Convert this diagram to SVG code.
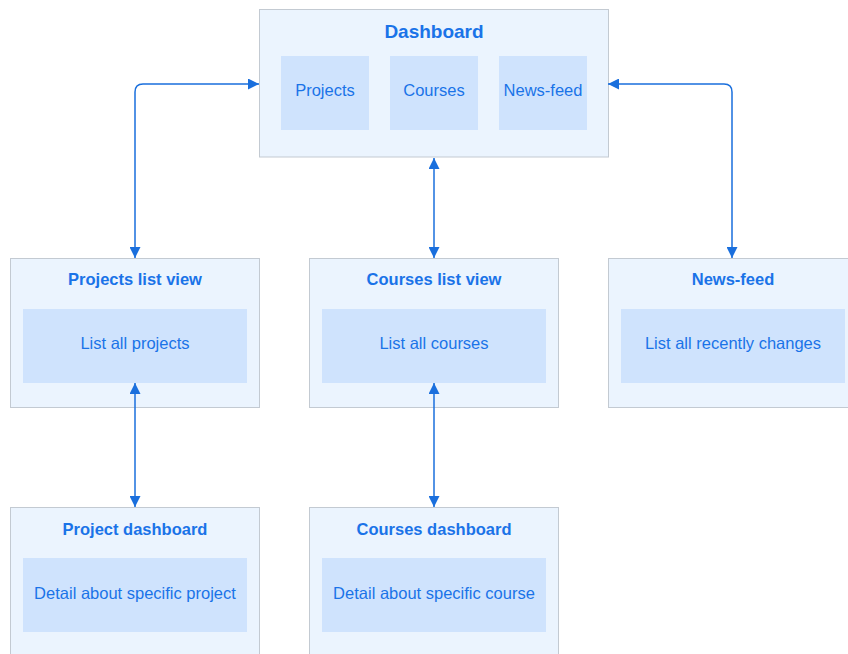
<svg xmlns="http://www.w3.org/2000/svg" width="848" height="654" viewBox="0 0 848 654">
<defs>
<style>
.outer{fill:#EBF4FE;stroke:#C3CAD2;stroke-width:1}
.inner{fill:#CFE3FD}
.title{font-family:"Liberation Sans",Arial,sans-serif;font-weight:bold;font-size:16.5px;fill:#1A73E8;text-anchor:middle}
.big{font-size:19px}
.label{font-family:"Liberation Sans",Arial,sans-serif;font-size:16.5px;fill:#1A73E8;text-anchor:middle}
.conn{fill:none;stroke:#1A6FDD;stroke-width:1.5;marker-start:url(#ah);marker-end:url(#ah)}
</style>
<marker id="ah" viewBox="0 0 11 11" refX="11" refY="5.5" markerWidth="11" markerHeight="11" markerUnits="userSpaceOnUse" orient="auto-start-reverse">
<path d="M0,0 L11,5.5 L0,11 Z" fill="#1A6FDD"/>
</marker>
</defs>
<rect width="848" height="654" fill="#FFFFFF"/>
<g id="dashboard">
<rect class="outer" x="259.5" y="9.5" width="349" height="147.5"/>
<text class="title big" x="434" y="38">Dashboard</text>
<rect class="inner" x="281" y="56" width="88" height="74"/>
<text class="label" x="325" y="96">Projects</text>
<rect class="inner" x="390" y="56" width="88" height="74"/>
<text class="label" x="434" y="96">Courses</text>
<rect class="inner" x="499" y="56" width="88" height="74"/>
<text class="label" x="543" y="96">News-feed</text>
</g>
<g id="projects-list">
<rect class="outer" x="10.5" y="258.5" width="249" height="149"/>
<text class="title" x="135" y="285">Projects list view</text>
<rect class="inner" x="23" y="309" width="224" height="74"/>
<text class="label" x="135" y="349">List all projects</text>
</g>
<g id="courses-list">
<rect class="outer" x="309.5" y="258.5" width="249" height="149"/>
<text class="title" x="434" y="285">Courses list view</text>
<rect class="inner" x="322" y="309" width="224" height="74"/>
<text class="label" x="434" y="349">List all courses</text>
</g>
<g id="news-feed">
<rect class="outer" x="608.5" y="258.5" width="249" height="149"/>
<text class="title" x="733" y="285">News-feed</text>
<rect class="inner" x="621" y="309" width="224" height="74"/>
<text class="label" x="733" y="349">List all recently changes</text>
</g>
<g id="project-dashboard">
<rect class="outer" x="10.5" y="507.5" width="249" height="160"/>
<text class="title" x="135" y="534.5">Project dashboard</text>
<rect class="inner" x="23" y="558" width="224" height="74"/>
<text class="label" x="135" y="598.5">Detail about specific project</text>
</g>
<g id="courses-dashboard">
<rect class="outer" x="309.5" y="507.5" width="249" height="160"/>
<text class="title" x="434" y="534.5">Courses dashboard</text>
<rect class="inner" x="322" y="558" width="224" height="74"/>
<text class="label" x="434" y="598.5">Detail about specific course</text>
</g>
<g id="connectors">
<path class="conn" d="M135,258 V92 Q135,84 143,84 H259"/>
<path class="conn" d="M608,84 H724 Q732,84 732,92 V258"/>
<path class="conn" d="M434,158 V258"/>
<path class="conn" d="M135,383 V507"/>
<path class="conn" d="M434,383 V507"/>
</g>
</svg>
